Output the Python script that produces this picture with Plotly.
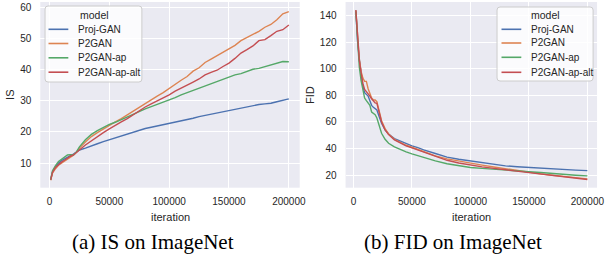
import plotly.graph_objects as go

# ---------------- data ----------------
models = ["Proj-GAN", "P2GAN", "P2GAN-ap", "P2GAN-ap-alt"]
colors = ["#4c72b0", "#dd8452", "#55a868", "#c44e52"]

is_iter = [1000, 2500, 5000, 7500, 10000, 12500, 15000, 17500, 20000, 22500, 25000,
           30000, 35000, 40000, 45000, 50000, 55000, 60000, 65000, 70000, 75000,
           80000, 85000, 90000, 95000, 100000, 105000, 110000, 115000, 120000, 125000,
           130000, 135000, 140000, 145000, 150000, 155000, 160000, 165000, 170000, 175000,
           180000, 185000, 190000, 195000, 200000]
is_proj = [4.8, 7.2, 8.8, 10.0, 10.8, 11.4, 11.9, 12.4, 12.9, 13.5, 14.2,
           14.8, 15.4, 16.2, 16.9, 17.5, 18.1, 18.8, 19.5, 20.1, 20.7,
           21.1, 21.5, 21.9, 22.2, 22.6, 23.1, 23.5, 24.0, 24.4, 24.9,
           25.3, 25.8, 26.1, 26.6, 27.0, 27.3, 27.7, 28.1, 28.4, 28.8,
           29.0, 29.2, 29.7, 30.1, 30.6]
is_p2 = [4.5, 6.8, 8.2, 9.3, 10.0, 10.6, 11.3, 11.9, 12.5, 13.5, 14.8,
         16.8, 18.5, 19.8, 21.0, 22.2, 23.2, 24.3, 25.5, 26.8, 28.0,
         29.3, 30.3, 31.5, 32.6, 34.0, 35.2, 36.6, 37.8, 39.5, 40.6,
         42.3, 43.4, 44.5, 45.6, 46.5, 47.8, 49.3, 50.3, 51.2, 52.3,
         53.6, 54.5, 56.0, 57.9, 58.6]
is_ap = [4.7, 7.5, 9.2, 10.5, 11.2, 11.8, 12.6, 12.7, 12.6, 13.6, 15.2,
         17.5, 19.2, 20.4, 21.5, 22.4, 23.1, 24.0, 24.8, 25.7, 26.6,
         27.4, 28.1, 28.8, 29.4, 30.2, 31.0, 31.9, 32.6, 33.5, 34.0,
         34.9, 35.5, 36.3, 37.0, 37.7, 38.3, 38.7, 39.4, 40.1, 40.4,
         41.0, 41.4, 42.0, 42.6, 42.5]
is_alt = [4.6, 7.0, 8.6, 9.6, 10.3, 10.9, 11.6, 12.2, 12.6, 13.3, 14.2,
          15.8, 17.2, 18.6, 19.8, 21.0, 22.0, 23.2, 24.3, 25.6, 26.9,
          28.0, 29.0, 29.9, 30.8, 31.9, 33.1, 34.0, 35.0, 36.0, 37.0,
          38.3, 39.1, 39.8, 41.0, 42.1, 43.6, 45.3, 46.4, 47.6, 49.3,
          49.6, 50.9, 52.3, 52.8, 54.3]

fid_iter = [2000, 3500, 5000, 6500, 8000, 9500, 11000, 12500, 14000, 15500, 17000,
            18500, 20000, 22000, 24000, 27000, 30000, 35000, 40000, 45000, 50000,
            55000, 60000, 70000, 80000, 90000, 100000, 110000, 120000, 130000, 140000,
            150000, 160000, 170000, 180000, 190000, 200000]
fid_proj = [144, 120, 107, 98, 87, 82, 80.5, 79.5, 76, 72.5, 71,
            70, 69, 64, 59, 54, 51, 47.5, 45.5, 43.5, 42,
            40.7, 39, 36.3, 33.6, 32, 30.8, 29.3, 28, 27, 26.4,
            25.8, 25.3, 24.8, 24.2, 23.8, 23.4]
fid_p2 = [144, 121, 107, 98, 93, 90.5, 90.5, 85, 81, 78, 76.5,
          76.5, 75.3, 67, 61, 55, 51, 47, 44.5, 42.5, 41,
          39.5, 37.5, 34.5, 32.3, 30.6, 29, 27.6, 26.2, 24.8, 23.4,
          22, 21, 20, 18.9, 18, 17.2]
fid_ap = [143, 118, 101, 91, 85, 78, 76, 74.5, 72.5, 67.5, 66.5,
          65.5, 63, 56.5, 51.5, 47, 44, 41.3, 39.3, 37.5, 36,
          34.6, 33, 30.8, 28.6, 27, 25.8, 25.1, 24.6, 24, 23.3,
          22.6, 22, 21.2, 20.6, 20, 19.5]
fid_alt = [144, 121, 106, 97, 89, 84.5, 83, 81.5, 79.5, 77.5, 75.5,
           74.3, 74, 66, 60, 54, 50.5, 46.5, 44, 42, 40.5,
           39, 37, 34, 31.2, 29.2, 27.5, 26.3, 25.1, 24, 23,
           22, 20.9, 19.9, 18.7, 17.7, 16.8]

x_ticks = [0, 50000, 100000, 150000, 200000]
x_tick_text = ["0", "50000", "100000", "150000", "200000"]
is_ticks = [10, 20, 30, 40, 50, 60]
fid_ticks = [20, 40, 60, 80, 100, 120, 140]
captions = ["(a) IS on ImageNet", "(b) FID on ImageNet"]

# ---------------- figure ----------------
W, H = 608, 258
def px(x): return x / W
def py(y): return 1 - y / H

fig = go.Figure()
is_series = [is_proj, is_p2, is_ap, is_alt]
fid_series = [fid_proj, fid_p2, fid_ap, fid_alt]
for name, c, s in zip(models, colors, is_series):
    fig.add_trace(go.Scatter(x=is_iter, y=s, mode="lines", name=name,
                             line=dict(color=c, width=1.4), showlegend=False,
                             xaxis="x", yaxis="y"))
for name, c, s in zip(models, colors, fid_series):
    fig.add_trace(go.Scatter(x=fid_iter, y=s, mode="lines", name=name,
                             line=dict(color=c, width=1.4), showlegend=False,
                             xaxis="x2", yaxis="y2"))

txt = "#262626"
font = "Liberation Sans, Arial, sans-serif"
axis_common = dict(showgrid=True, gridcolor="white", gridwidth=1.3, zeroline=False,
                   showline=False, ticks="", tickfont=dict(size=10, color=txt, family=font))

fig.update_layout(
    width=W, height=H, margin=dict(l=0, r=0, t=0, b=0),
    paper_bgcolor="white", plot_bgcolor="#eaeaf2", showlegend=False,
    xaxis=dict(domain=[px(40.7), px(302.7)], range=[-7700, 209100],
               tickvals=x_ticks, ticktext=x_tick_text, anchor="y",
               ticklabelstandoff=6, **axis_common),
    yaxis=dict(domain=[py(187.7), py(2)], range=[2.1, 61.7], tickvals=is_ticks,
               anchor="x", ticklabelstandoff=8, **axis_common),
    xaxis2=dict(domain=[px(349), px(603)], range=[-6800, 208300],
                tickvals=x_ticks, ticktext=x_tick_text, anchor="y2",
                ticklabelstandoff=6, **axis_common),
    yaxis2=dict(domain=[py(187.7), py(2)], range=[10.6, 150.2], tickvals=fid_ticks,
                anchor="x2", ticklabelstandoff=8, **axis_common),
)

ann = []
shapes = []
def add_text(text, x, y, size, color=txt, family=font, angle=0, xanchor="center"):
    ann.append(dict(text=text, x=px(x), y=py(y), xref="paper", yref="paper",
                    xanchor=xanchor, yanchor="middle", textangle=angle,
                    showarrow=False, font=dict(size=size, color=color, family=family)))

# axis labels
add_text("iteration", 172, 216.5, 11)
add_text("iteration", 476, 216.5, 11)
add_text("IS", 10, 95, 11, angle=-90)
add_text("FID", 313, 95, 11, angle=-90)
# captions
serif = "Liberation Serif, Times New Roman, serif"
add_text(captions[0], 155, 242, 21, color="black", family=serif)
add_text(captions[1], 458, 242, 21, color="black", family=serif)

# custom legends (seaborn style)
def rounded_rect(x0, y0, x1, y1, r):
    X = lambda v: px(v)
    Y = lambda v: py(v)
    return (f"M {X(x0 + r)},{Y(y0)} L {X(x1 - r)},{Y(y0)} Q {X(x1)},{Y(y0)} {X(x1)},{Y(y0 + r)} "
            f"L {X(x1)},{Y(y1 - r)} Q {X(x1)},{Y(y1)} {X(x1 - r)},{Y(y1)} "
            f"L {X(x0 + r)},{Y(y1)} Q {X(x0)},{Y(y1)} {X(x0)},{Y(y1 - r)} "
            f"L {X(x0)},{Y(y0 + r)} Q {X(x0)},{Y(y0)} {X(x0 + r)},{Y(y0)} Z")

legends = [
    dict(box=(45.5, 6, 143.3, 82), title_x=95, line=(49, 69), text_x=77,
         ys=[29.3, 43.5, 57.8, 72.2]),
    dict(box=(502, 7, 599, 81), title_x=550.5, line=(506.5, 526.5), text_x=534,
         ys=[29.3, 43.0, 57.3, 72.3]),
]
for lg in legends:
    x0, y0, x1, y1 = lg["box"]
    shapes.append(dict(type="path", path=rounded_rect(x0, y0, x1, y1, 3), xref="paper",
                       yref="paper", fillcolor="rgba(255,255,255,0.8)",
                       line=dict(color="#cccccc", width=1)))
    add_text("model", lg["title_x"], 15, 10.5)
    for name, c, yy in zip(models, colors, lg["ys"]):
        shapes.append(dict(type="line", x0=px(lg["line"][0]), x1=px(lg["line"][1]),
                           y0=py(yy), y1=py(yy), xref="paper", yref="paper",
                           line=dict(color=c, width=1.6)))
        add_text(name, lg["text_x"], yy, 10, xanchor="left")

fig.update_layout(annotations=ann, shapes=shapes)
fig.write_html(
    "out.html", config={"displayModeBar": False, "responsive": False},
    post_script=("document.body.style.margin='0';document.body.style.padding='0';"
                 "document.body.style.overflow='hidden';"
                 "document.documentElement.style.overflow='hidden';"))
